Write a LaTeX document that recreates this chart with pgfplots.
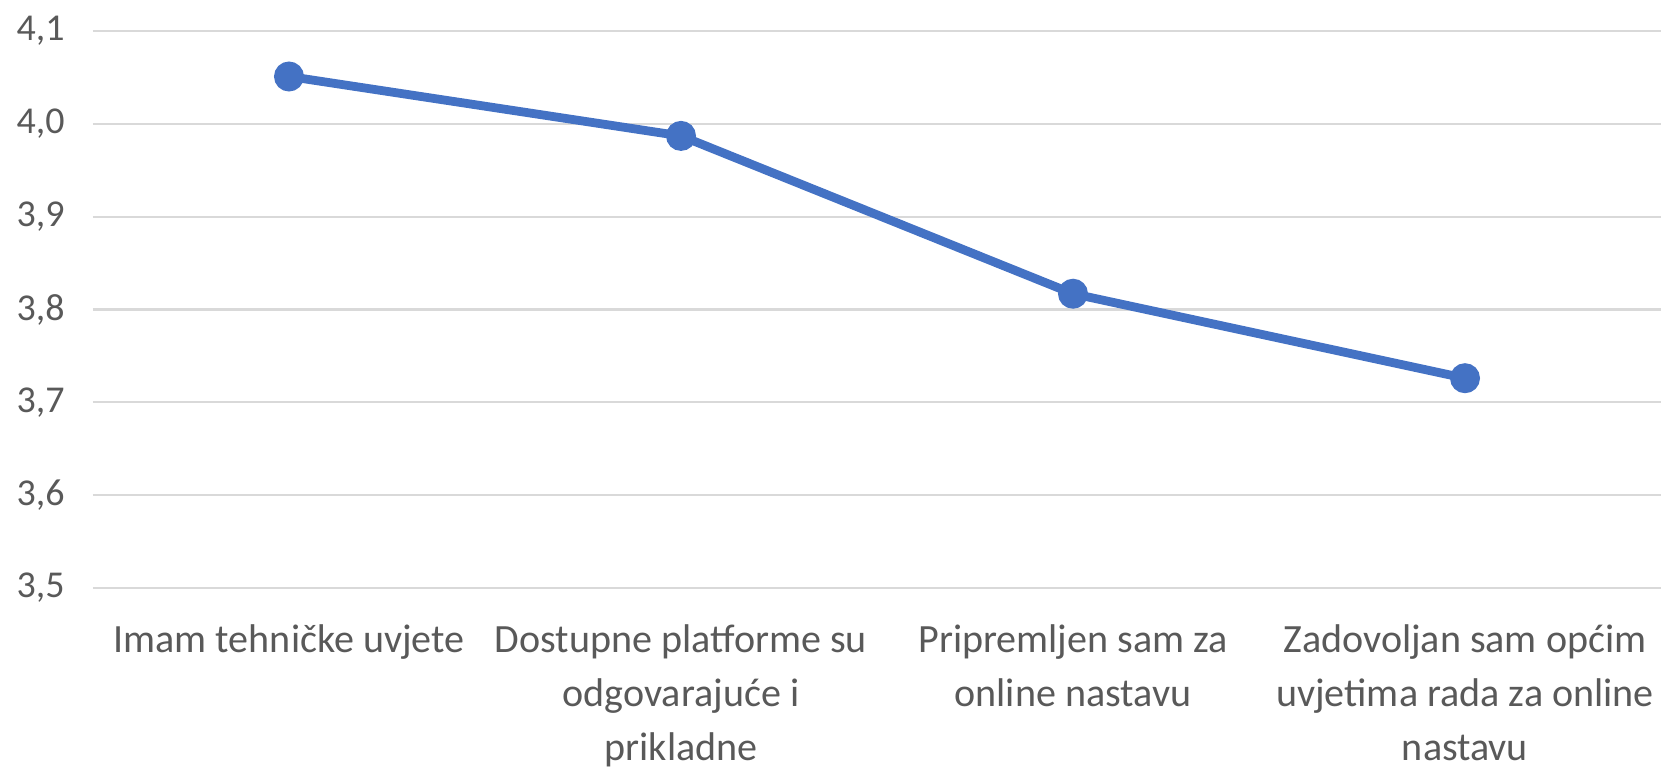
\documentclass[border=0pt]{standalone}
\usepackage{fontspec}
\setmainfont{Carlito}
\usepackage{pgfplots}
\pgfplotsset{compat=1.18}
\definecolor{xlblue}{HTML}{4472C4}
\definecolor{xlgrid}{HTML}{D9D9D9}
\definecolor{xltext}{HTML}{595959}

\begin{document}
\begin{tikzpicture}
\begin{axis}[
  scale only axis,
  width=15.68cm, height=5.57cm,
  xmin=-0.5, xmax=3.5,
  ymin=3.5, ymax=4.1,
  ytick={3.5,3.6,...,4.1},
  xtick={0,1,2,3},
  xticklabels={{Imam tehničke uvjete},{Dostupne platforme su\\odgovarajuće i\\prikladne},{Pripremljen sam za\\online nastavu},{Zadovoljan sam općim\\uvjetima rada za online\\nastavu}},
  axis line style={draw=none},
  major tick length=0pt,
  ymajorgrids, grid style={xlgrid, line width=0.6pt},
  tick label style={text=xltext, font=\fontsize{11.4}{15.4}\selectfont},
  xticklabel style={align=center, yshift=-0.24cm},
  yticklabel style={xshift=-0.16cm, font=\fontsize{10.8}{13}\selectfont},
  /pgf/number format/.cd, use comma, fixed, fixed zerofill, precision=1, assume math mode=true,
]
\addplot[xlblue, line width=2.5pt, mark=*, mark size=3pt, mark options={fill=xlblue, draw=xlblue}]
  coordinates {(0,4.051)(1,3.987)(2,3.817)(3,3.726)};
\end{axis}
\pgfresetboundingbox
\path[use as bounding box] (-0.93cm,-1.80cm) rectangle (15.68cm,5.88cm);
\end{tikzpicture}
\end{document}
